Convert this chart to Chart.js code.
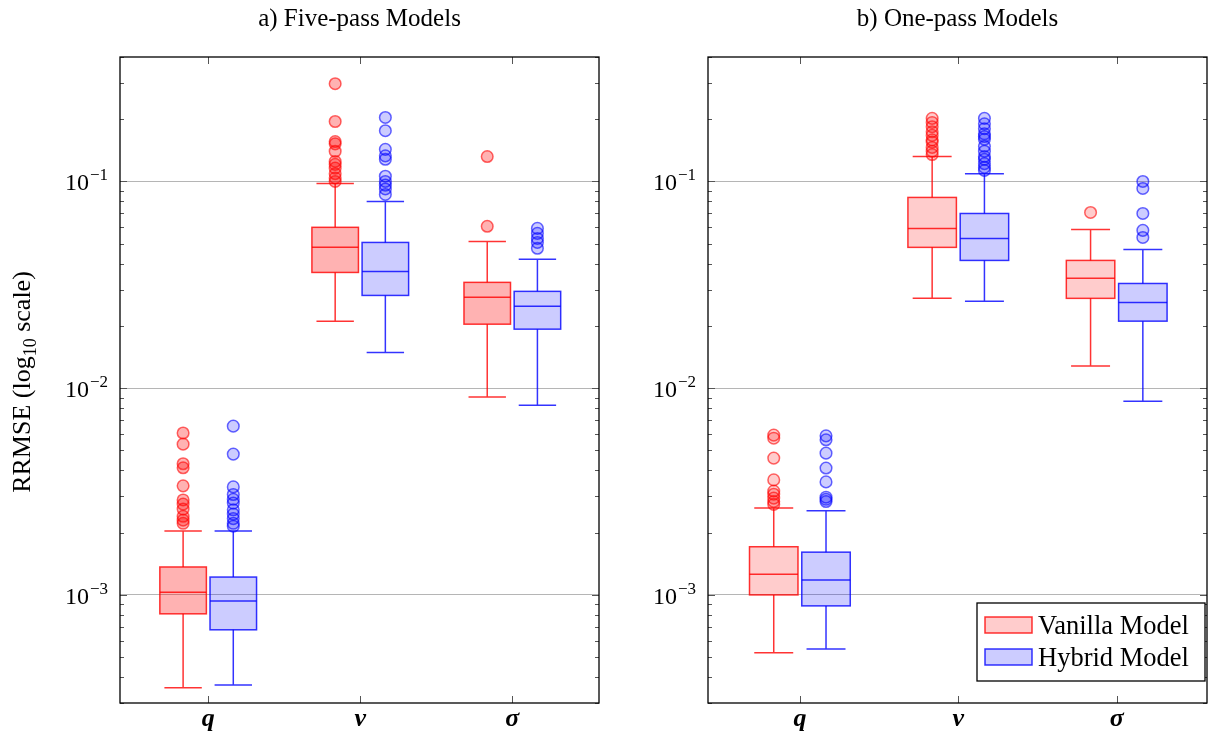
<!DOCTYPE html>
<html>
<head>
<meta charset="utf-8">
<script src="https://cdn.jsdelivr.net/npm/chart.js@4.4.1/dist/chart.umd.min.js"></script>
<style>
  body { margin: 0; background: #fff; }
  #wrap { position: relative; width: 1225px; height: 734px; }
  canvas { position: absolute; top: 0; }
</style>
</head>
<body>
<div id="wrap">
  <canvas id="fivePass" width="612" height="734" style="left:0"></canvas>
  <canvas id="onePass" width="613" height="734" style="left:612px"></canvas>
</div>
<script>
// categories and tick labels
const categories = ['q', 'v', 'σ'];
const seriesNames = ['Vanilla Model', 'Hybrid Model'];
const yTicks = [1e-3, 1e-2, 1e-1];
const yTickExp = ['−3', '−2', '−1'];

// box stats per category: [lower whisker, q1, median, q3, upper whisker]
const fiveVanillaBox = [
  [3.56e-4, 8.1e-4, 1.03e-3, 1.365e-3, 2.04e-3],
  [0.0211, 0.0363, 0.048, 0.060, 0.0978],
  [0.00906, 0.0204, 0.0275, 0.0325, 0.0513]
];
const fiveHybridBox = [
  [3.67e-4, 6.78e-4, 9.35e-4, 1.22e-3, 2.04e-3],
  [0.0149, 0.0281, 0.0367, 0.0507, 0.080],
  [0.00828, 0.0193, 0.0249, 0.0294, 0.042]
];
const fiveVanillaOut = [
  [6.07e-3, 5.36e-3, 4.31e-3, 4.12e-3, 3.37e-3, 2.88e-3, 2.75e-3, 2.6e-3, 2.4e-3, 2.3e-3, 2.22e-3],
  [0.297, 0.195, 0.156, 0.152, 0.14, 0.125, 0.121, 0.116, 0.109, 0.104, 0.1],
  [0.132, 0.0607]
];
const fiveHybridOut = [
  [6.55e-3, 4.8e-3, 3.33e-3, 3.06e-3, 2.9e-3, 2.78e-3, 2.58e-3, 2.46e-3, 2.34e-3, 2.22e-3, 2.15e-3],
  [0.204, 0.176, 0.143, 0.133, 0.128, 0.106, 0.1, 0.096, 0.092, 0.0865],
  [0.0593, 0.0561, 0.053, 0.0507, 0.0475]
];

const oneVanillaBox = [
  [5.25e-4, 1.0e-3, 1.26e-3, 1.71e-3, 2.63e-3],
  [0.0272, 0.048, 0.0593, 0.0837, 0.132],
  [0.0128, 0.0272, 0.034, 0.0415, 0.0586]
];
const oneHybridBox = [
  [5.48e-4, 8.85e-4, 1.18e-3, 1.61e-3, 2.55e-3],
  [0.0263, 0.0415, 0.053, 0.070, 0.109],
  [0.00865, 0.0211, 0.026, 0.0321, 0.0469]
];
const oneVanillaOut = [
  [5.93e-3, 5.73e-3, 4.59e-3, 3.6e-3, 3.18e-3, 3.07e-3, 2.94e-3, 2.83e-3, 2.74e-3],
  [0.202, 0.193, 0.184, 0.174, 0.167, 0.159, 0.155, 0.146, 0.14, 0.135],
  [0.0708]
];
const oneHybridOut = [
  [5.88e-3, 5.63e-3, 4.85e-3, 4.11e-3, 3.52e-3, 2.97e-3, 2.9e-3, 2.83e-3],
  [0.202, 0.19, 0.18, 0.17, 0.165, 0.16, 0.148, 0.14, 0.132, 0.128, 0.122, 0.117, 0.113],
  [0.1, 0.0925, 0.070, 0.058, 0.0536]
];

const SERIF = '"Liberation Serif", "DejaVu Serif", serif';
const OFFSET = 0.165;   // half distance between the two boxes (x units)
const BOX_HALF = 0.153;
const CAP_HALF = 0.123;

function outlierPoints(outs, shift) {
  const pts = [];
  outs.forEach((vals, i) => vals.forEach(v => pts.push({ x: i + 1 + shift, y: v })));
  return pts;
}

function makePanel(id, cfg) {
  const colors = [
    { line: 'rgba(255,0,0,0.8)', fill: `rgba(255,0,0,${cfg.redAlpha})` },
    { line: 'rgba(0,0,255,0.8)', fill: 'rgba(0,0,255,0.2)' }
  ];
  const boxes = [cfg.vanillaBox, cfg.hybridBox];

  const pgfPlugin = {
    id: 'pgf',
    beforeDatasetsDraw(chart) {
      const ctx = chart.ctx, xs = chart.scales.x, ys = chart.scales.y;
      ctx.save();
      ctx.lineWidth = 1.5;
      boxes.forEach((series, s) => {
        const shift = s === 0 ? -OFFSET : OFFSET;
        series.forEach((b, i) => {
          const c = i + 1 + shift;
          const xl = xs.getPixelForValue(c - BOX_HALF), xr = xs.getPixelForValue(c + BOX_HALF);
          const xc = xs.getPixelForValue(c);
          const cl = xs.getPixelForValue(c - CAP_HALF), cr = xs.getPixelForValue(c + CAP_HALF);
          const [lo, q1, med, q3, hi] = b.map(v => ys.getPixelForValue(v));
          ctx.strokeStyle = colors[s].line;
          ctx.fillStyle = colors[s].fill;
          ctx.beginPath();
          ctx.moveTo(xc, q3); ctx.lineTo(xc, hi);
          ctx.moveTo(cl, hi); ctx.lineTo(cr, hi);
          ctx.moveTo(xc, q1); ctx.lineTo(xc, lo);
          ctx.moveTo(cl, lo); ctx.lineTo(cr, lo);
          ctx.stroke();
          ctx.fillRect(xl, q3, xr - xl, q1 - q3);
          ctx.strokeRect(xl, q3, xr - xl, q1 - q3);
          ctx.beginPath();
          ctx.moveTo(xl, med); ctx.lineTo(xr, med);
          ctx.stroke();
        });
      });
      ctx.restore();
    },
    afterDraw(chart) {
      const ctx = chart.ctx, xs = chart.scales.x, ys = chart.scales.y;
      const a = chart.chartArea;
      ctx.save();
      // minor + major y ticks, inward on both sides
      ctx.strokeStyle = '#555';
      ctx.lineWidth = 1;
      ctx.beginPath();
      for (let d = -4; d <= 0; d++) {
        for (let k = 1; k <= 9; k++) {
          const v = k * Math.pow(10, d);
          if (v < ys.min || v > ys.max) continue;
          const y = Math.round(ys.getPixelForValue(v)) + 0.5;
          const len = k === 1 ? 7 : 4;
          ctx.moveTo(a.left, y); ctx.lineTo(a.left + len, y);
          ctx.moveTo(a.right, y); ctx.lineTo(a.right - len, y);
        }
      }
      // x ticks
      categories.forEach((c, i) => {
        const x = Math.round(xs.getPixelForValue(i + 1)) + 0.5;
        ctx.moveTo(x, a.top); ctx.lineTo(x, a.top + 7);
        ctx.moveTo(x, a.bottom); ctx.lineTo(x, a.bottom - 7);
      });
      ctx.stroke();
      // frame
      ctx.strokeStyle = '#000';
      ctx.lineWidth = 1.3;
      ctx.strokeRect(a.left, a.top, a.right - a.left, a.bottom - a.top);

      ctx.fillStyle = '#000';
      ctx.textBaseline = 'alphabetic';
      // y tick labels 10^-n
      yTicks.forEach((v, i) => {
        const y = ys.getPixelForValue(v);
        ctx.font = `17px ${SERIF}`;
        const sw = ctx.measureText(yTickExp[i]).width;
        const right = a.left - 12;
        ctx.textAlign = 'right';
        ctx.fillText(yTickExp[i], right, y - 1);
        ctx.font = `24px ${SERIF}`;
        ctx.fillText('10', right - sw - 1, y + 9);
      });
      // x labels
      ctx.font = `bold italic 26px ${SERIF}`;
      ctx.textAlign = 'center';
      categories.forEach((c, i) => {
        ctx.fillText(c, xs.getPixelForValue(i + 1), a.bottom + 23);
      });
      // title
      ctx.font = `25px ${SERIF}`;
      ctx.fillText(cfg.title, (a.left + a.right) / 2, 26);
      // y axis title
      if (cfg.yTitle) {
        ctx.save();
        ctx.translate(30, (a.top + a.bottom) / 2 + 2);
        ctx.rotate(-Math.PI / 2);
        ctx.font = `26px ${SERIF}`;
        const p1 = 'RRMSE (log', p2 = '10', p3 = ' scale)';
        const w1 = ctx.measureText(p1).width, w3 = ctx.measureText(p3).width;
        ctx.font = `18px ${SERIF}`;
        const w2 = ctx.measureText(p2).width;
        let x = -(w1 + w2 + w3) / 2;
        ctx.textAlign = 'left';
        ctx.font = `26px ${SERIF}`;
        ctx.fillText(p1, x, 0); x += w1;
        ctx.font = `18px ${SERIF}`;
        ctx.fillText(p2, x, 6); x += w2;
        ctx.font = `26px ${SERIF}`;
        ctx.fillText(p3, x, 0);
        ctx.restore();
      }
      // legend
      if (cfg.legend) {
        const lw = 228, lh = 78;
        const lx = a.right - 2 - lw, ly = a.bottom - 22 - lh;
        ctx.fillStyle = '#fff';
        ctx.fillRect(lx, ly, lw, lh);
        ctx.strokeStyle = '#000';
        ctx.lineWidth = 1.3;
        ctx.strokeRect(lx, ly, lw, lh);
        seriesNames.forEach((n, s) => {
          const sy = ly + 14 + s * 32;
          ctx.fillStyle = colors[s].fill;
          ctx.fillRect(lx + 8, sy, 47, 16);
          ctx.strokeStyle = colors[s].line;
          ctx.lineWidth = 1.5;
          ctx.strokeRect(lx + 8, sy, 47, 16);
          ctx.fillStyle = '#000';
          ctx.font = `26.5px ${SERIF}`;
          ctx.textAlign = 'left';
          ctx.fillText(n, lx + 61, sy + 17);
        });
      }
      ctx.restore();
    }
  };

  return new Chart(document.getElementById(id), {
    type: 'scatter',
    data: {
      datasets: [
        {
          label: seriesNames[0],
          data: outlierPoints(cfg.vanillaOut, -OFFSET),
          backgroundColor: `rgba(255,0,0,${cfg.redAlpha})`,
          borderColor: 'rgba(255,0,0,0.6)',
          borderWidth: 1.5,
          pointRadius: 5.8
        },
        {
          label: seriesNames[1],
          data: outlierPoints(cfg.hybridOut, OFFSET),
          backgroundColor: 'rgba(0,0,255,0.2)',
          borderColor: 'rgba(0,0,255,0.6)',
          borderWidth: 1.5,
          pointRadius: 5.8
        }
      ]
    },
    options: {
      responsive: false,
      animation: false,
      layout: { padding: { top: 57, right: cfg.padRight, left: 0, bottom: 0 } },
      plugins: { legend: { display: false }, tooltip: { enabled: false } },
      scales: {
        x: {
          type: 'linear', min: 0.42, max: 3.57,
          ticks: { display: false },
          grid: { display: false },
          border: { display: false },
          afterFit: s => { s.height = 31; }
        },
        y: {
          type: 'logarithmic', min: 3e-4, max: 0.4,
          afterBuildTicks: s => { s.ticks = yTicks.map(v => ({ value: v })); },
          ticks: { display: false },
          grid: { color: '#b5b5b5', lineWidth: 1, drawTicks: false },
          border: { display: false },
          afterFit: s => { s.width = cfg.yWidth; }
        }
      }
    },
    plugins: [pgfPlugin]
  });
}

makePanel('fivePass', {
  title: 'a) Five-pass Models', yTitle: true, legend: false,
  yWidth: 120, padRight: 13, redAlpha: 0.3,
  vanillaBox: fiveVanillaBox, hybridBox: fiveHybridBox,
  vanillaOut: fiveVanillaOut, hybridOut: fiveHybridOut
});
makePanel('onePass', {
  title: 'b) One-pass Models', yTitle: false, legend: true,
  yWidth: 96, padRight: 18, redAlpha: 0.2,
  vanillaBox: oneVanillaBox, hybridBox: oneHybridBox,
  vanillaOut: oneVanillaOut, hybridOut: oneHybridOut
});
</script>
</body>
</html>
